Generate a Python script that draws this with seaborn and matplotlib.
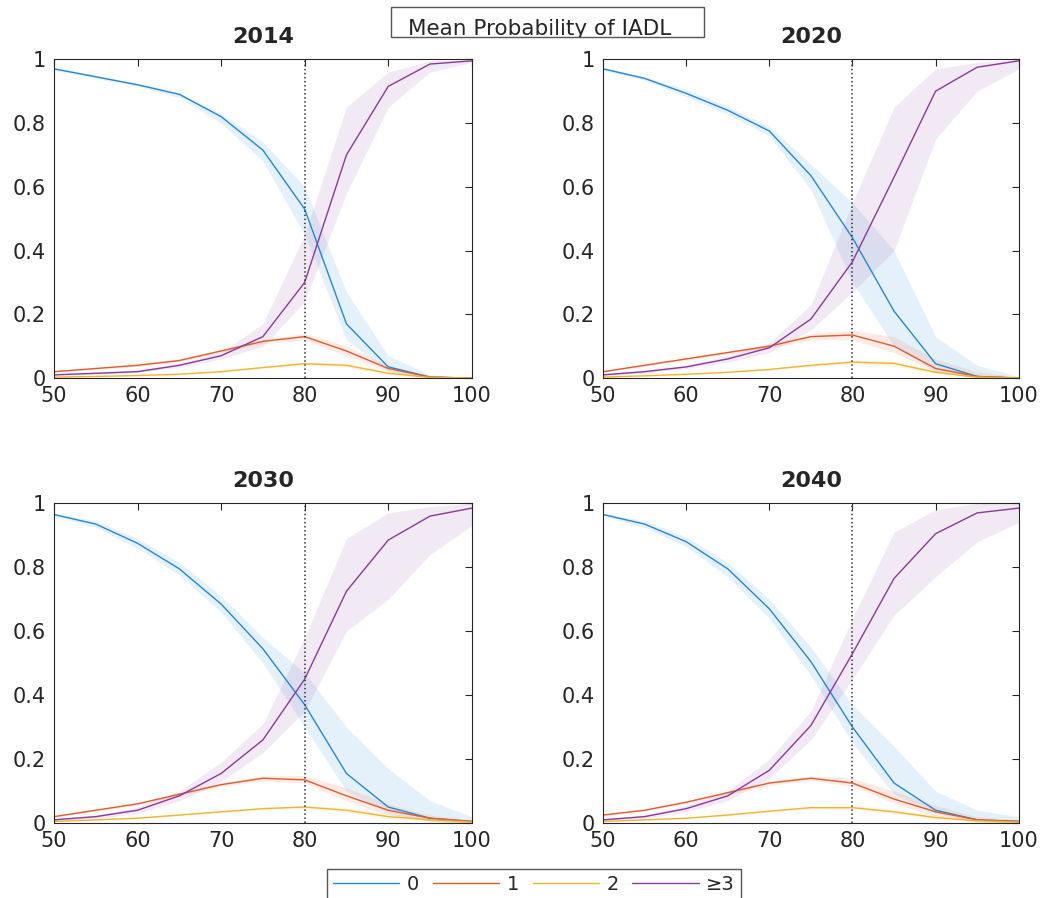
import numpy as np
import pandas as pd
import matplotlib.pyplot as plt
import matplotlib.patches as mpatches
import seaborn as sns

# ------------------------------------------------------------ #
# data
# ------------------------------------------------------------ #
ages = [50, 55, 60, 65, 70, 75, 80, 85, 90, 95, 100]
levels = ['0', '1', '2', '≥3']
years = ['2014', '2020', '2030', '2040']

mean_2014 = {
    '0': [0.97, 0.945, 0.92, 0.89, 0.82, 0.715, 0.53, 0.17, 0.035, 0.003, 0.0],
    '1': [0.02, 0.03, 0.04, 0.055, 0.085, 0.115, 0.13, 0.085, 0.03, 0.003, 0.0],
    '2': [0.003, 0.005, 0.008, 0.012, 0.02, 0.033, 0.045, 0.04, 0.015, 0.002, 0.0],
    '≥3': [0.01, 0.015, 0.02, 0.04, 0.07, 0.13, 0.30, 0.70, 0.915, 0.985, 0.995],
}
lo_2014 = {
    '0': [0.965, 0.94, 0.915, 0.88, 0.80, 0.68, 0.45, 0.12, 0.02, 0.0, 0.0],
    '1': [0.018, 0.027, 0.036, 0.05, 0.08, 0.108, 0.12, 0.07, 0.02, 0.0, 0.0],
    '2': [0.002, 0.004, 0.007, 0.01, 0.018, 0.03, 0.04, 0.034, 0.01, 0.0, 0.0],
    '≥3': [0.008, 0.012, 0.018, 0.033, 0.06, 0.10, 0.24, 0.58, 0.85, 0.96, 0.99],
}
hi_2014 = {
    '0': [0.975, 0.95, 0.925, 0.895, 0.83, 0.74, 0.60, 0.27, 0.07, 0.01, 0.0],
    '1': [0.022, 0.033, 0.044, 0.06, 0.09, 0.122, 0.14, 0.10, 0.04, 0.008, 0.001],
    '2': [0.004, 0.006, 0.009, 0.014, 0.022, 0.036, 0.05, 0.046, 0.02, 0.004, 0.001],
    '≥3': [0.012, 0.018, 0.025, 0.047, 0.08, 0.17, 0.45, 0.85, 0.96, 0.995, 1.0],
}

mean_2020 = {
    '0': [0.97, 0.94, 0.893, 0.84, 0.775, 0.635, 0.44, 0.21, 0.045, 0.005, 0.0],
    '1': [0.02, 0.04, 0.06, 0.08, 0.10, 0.13, 0.135, 0.10, 0.03, 0.005, 0.0],
    '2': [0.003, 0.007, 0.012, 0.018, 0.027, 0.04, 0.05, 0.046, 0.018, 0.003, 0.0],
    '≥3': [0.01, 0.02, 0.035, 0.06, 0.095, 0.185, 0.365, 0.63, 0.90, 0.975, 0.995],
}
lo_2020 = {
    '0': [0.965, 0.935, 0.883, 0.828, 0.76, 0.59, 0.30, 0.10, 0.02, 0.0, 0.0],
    '1': [0.018, 0.037, 0.056, 0.075, 0.094, 0.12, 0.12, 0.08, 0.02, 0.0, 0.0],
    '2': [0.002, 0.006, 0.01, 0.016, 0.024, 0.036, 0.044, 0.038, 0.012, 0.0, 0.0],
    '≥3': [0.008, 0.015, 0.03, 0.05, 0.08, 0.15, 0.27, 0.40, 0.75, 0.90, 0.97],
}
hi_2020 = {
    '0': [0.975, 0.945, 0.905, 0.852, 0.79, 0.67, 0.55, 0.40, 0.13, 0.04, 0.005],
    '1': [0.022, 0.043, 0.064, 0.085, 0.106, 0.14, 0.15, 0.13, 0.06, 0.02, 0.004],
    '2': [0.004, 0.008, 0.014, 0.02, 0.03, 0.044, 0.056, 0.054, 0.026, 0.008, 0.002],
    '≥3': [0.012, 0.025, 0.04, 0.07, 0.11, 0.23, 0.55, 0.85, 0.97, 0.99, 1.0],
}

mean_2030 = {
    '0': [0.965, 0.935, 0.875, 0.795, 0.685, 0.545, 0.37, 0.155, 0.05, 0.015, 0.005],
    '1': [0.02, 0.04, 0.06, 0.09, 0.12, 0.14, 0.135, 0.085, 0.04, 0.015, 0.005],
    '2': [0.005, 0.01, 0.015, 0.025, 0.035, 0.045, 0.05, 0.04, 0.02, 0.01, 0.003],
    '≥3': [0.01, 0.02, 0.04, 0.085, 0.155, 0.26, 0.45, 0.725, 0.885, 0.96, 0.985],
}
lo_2030 = {
    '0': [0.96, 0.925, 0.86, 0.775, 0.66, 0.50, 0.30, 0.10, 0.03, 0.005, 0.0],
    '1': [0.018, 0.037, 0.056, 0.085, 0.114, 0.132, 0.125, 0.07, 0.025, 0.005, 0.0],
    '2': [0.004, 0.008, 0.013, 0.022, 0.032, 0.041, 0.045, 0.033, 0.014, 0.005, 0.0],
    '≥3': [0.008, 0.015, 0.03, 0.07, 0.13, 0.22, 0.35, 0.60, 0.70, 0.84, 0.93],
}
hi_2030 = {
    '0': [0.97, 0.945, 0.89, 0.815, 0.71, 0.58, 0.47, 0.30, 0.17, 0.07, 0.02],
    '1': [0.022, 0.043, 0.064, 0.095, 0.126, 0.148, 0.148, 0.11, 0.06, 0.025, 0.01],
    '2': [0.006, 0.012, 0.017, 0.028, 0.038, 0.049, 0.055, 0.048, 0.028, 0.015, 0.006],
    '≥3': [0.012, 0.025, 0.05, 0.10, 0.19, 0.31, 0.58, 0.89, 0.97, 0.99, 1.0],
}

mean_2040 = {
    '0': [0.965, 0.935, 0.88, 0.795, 0.67, 0.505, 0.30, 0.125, 0.04, 0.01, 0.005],
    '1': [0.025, 0.04, 0.065, 0.095, 0.125, 0.14, 0.125, 0.075, 0.035, 0.01, 0.005],
    '2': [0.005, 0.01, 0.015, 0.025, 0.037, 0.048, 0.048, 0.035, 0.017, 0.007, 0.003],
    '≥3': [0.01, 0.02, 0.045, 0.085, 0.165, 0.305, 0.53, 0.765, 0.905, 0.97, 0.985],
}
lo_2040 = {
    '0': [0.96, 0.925, 0.865, 0.77, 0.64, 0.46, 0.25, 0.09, 0.03, 0.005, 0.0],
    '1': [0.022, 0.037, 0.061, 0.09, 0.118, 0.133, 0.115, 0.062, 0.022, 0.003, 0.0],
    '2': [0.004, 0.008, 0.013, 0.022, 0.034, 0.044, 0.043, 0.029, 0.012, 0.003, 0.0],
    '≥3': [0.008, 0.015, 0.035, 0.07, 0.14, 0.26, 0.45, 0.65, 0.77, 0.88, 0.94],
}
hi_2040 = {
    '0': [0.97, 0.945, 0.895, 0.815, 0.70, 0.55, 0.37, 0.24, 0.10, 0.04, 0.02],
    '1': [0.028, 0.043, 0.069, 0.1, 0.132, 0.148, 0.14, 0.10, 0.055, 0.02, 0.01],
    '2': [0.006, 0.012, 0.017, 0.028, 0.04, 0.052, 0.054, 0.043, 0.025, 0.012, 0.006],
    '≥3': [0.012, 0.025, 0.055, 0.10, 0.20, 0.35, 0.64, 0.91, 0.98, 1.0, 1.0],
}

means = {'2014': mean_2014, '2020': mean_2020, '2030': mean_2030, '2040': mean_2040}
lows = {'2014': lo_2014, '2020': lo_2020, '2030': lo_2030, '2040': lo_2040}
highs = {'2014': hi_2014, '2020': hi_2020, '2030': hi_2030, '2040': hi_2040}

line_colors = ['#2288D2', '#DE5C30', '#EFB530', '#8A3A9A']
band_colors = ['#3A9AE0', '#E86A3A', '#F0B830', '#9A5AAA']
palette = dict(zip(levels, line_colors))
band_palette = dict(zip(levels, band_colors))

# ------------------------------------------------------------ #
# style
# ------------------------------------------------------------ #
sns.set_style('white')
plt.rcParams['font.family'] = ['DejaVu Sans']
plt.rcParams['axes.edgecolor'] = '#262626'
plt.rcParams['axes.linewidth'] = 0.8

fig = plt.figure(figsize=(10.47, 8.98), dpi=100)

# axes boxes, figure fractions
positions = [
    [0.0516, 0.579, 0.399, 0.355],
    [0.576, 0.579, 0.397, 0.355],
    [0.0516, 0.0835, 0.399, 0.356],
    [0.576, 0.0835, 0.397, 0.356],
]

handles = None
for year, pos in zip(years, positions):
    ax = fig.add_axes(pos)
    rows = []
    for lev in levels:
        for a, p in zip(ages, means[year][lev]):
            rows.append({'age': a, 'prob': p, 'level': lev})
    df = pd.DataFrame(rows)

    for lev in levels:
        ax.fill_between(ages, lows[year][lev], highs[year][lev],
                        color=band_palette[lev], alpha=0.13, linewidth=0)

    sns.lineplot(data=df, x='age', y='prob', hue='level', palette=palette,
                 hue_order=levels, ax=ax, legend=False, linewidth=1.0)
    if handles is None:
        handles = list(ax.get_lines()[:4])

    ax.axvline(80, color='#333333', linestyle=':', linewidth=1.1)

    ax.set_xlim(50, 100)
    ax.set_ylim(0, 1)
    ax.set_xticks([50, 60, 70, 80, 90, 100])
    ax.set_yticks([0, 0.2, 0.4, 0.6, 0.8, 1])
    ax.set_yticklabels(['0', '0.2', '0.4', '0.6', '0.8', '1'])
    ax.set_xlabel('')
    ax.set_ylabel('')
    ax.tick_params(direction='in', top=True, right=True, length=5, width=0.8,
                   labelsize=15, labelcolor='#262626', color='#262626', pad=6)
    ax.set_title(year, fontsize=16, fontweight='bold', pad=12)

# boxed title at the top
rect = mpatches.Rectangle((391 / 1047, 1 - 37 / 898), 313 / 1047, 30 / 898,
                          transform=fig.transFigure, fill=False,
                          edgecolor='#555555', linewidth=1.0)
fig.patches.append(rect)
t = fig.text(540 / 1047, 1 - 35 / 898, 'Mean Probability of IADL', fontsize=15.5,
             ha='center', va='baseline', color='#262626')
t.set_clip_path(rect)

# legend at the bottom
leg = fig.legend(handles, levels, loc='upper center', ncol=4,
                 bbox_to_anchor=(534 / 1047, 1 - 859 / 898), fontsize=14,
                 frameon=True, fancybox=False, framealpha=1,
                 edgecolor='#555555', handlelength=3.4, handletextpad=0.4,
                 columnspacing=0.7, borderpad=0.3)

fig.savefig('out.png', dpi=100)
